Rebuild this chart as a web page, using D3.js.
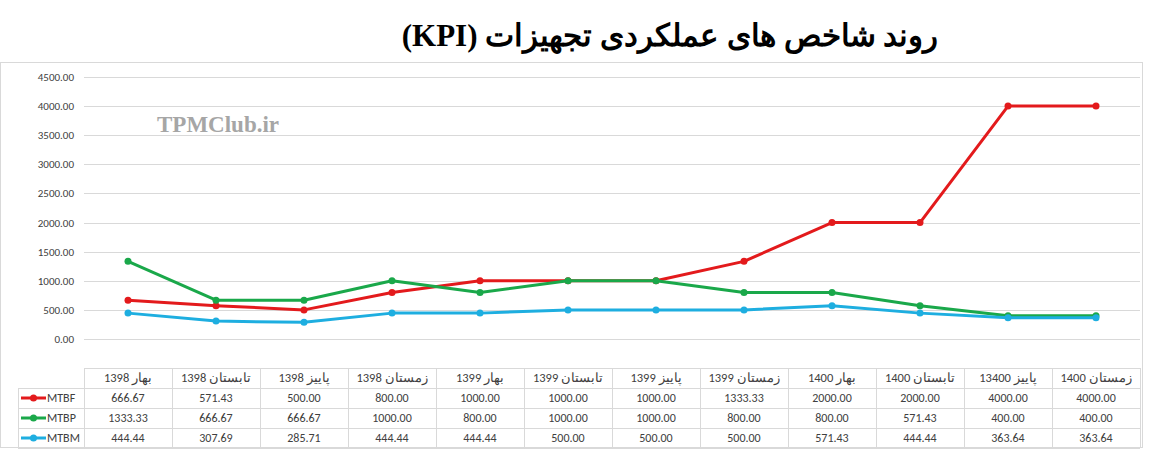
<!DOCTYPE html>
<html><head><meta charset="utf-8">
<script src="https://cdn.jsdelivr.net/npm/d3@7"></script>
<style>body{margin:0;background:#fff}</style>
</head><body>
<script>
var categories = ["1398 بهار","1398 تابستان","1398 پاییز","1398 زمستان","1399 بهار","1399 تابستان","1399 پاییز","1399 زمستان","1400 بهار","1400 تابستان","13400 پاییز","1400 زمستان"];
var mtbf = [666.67,571.43,500.00,800.00,1000.00,1000.00,1000.00,1333.33,2000.00,2000.00,4000.00,4000.00];
var mtbp = [1333.33,666.67,666.67,1000.00,800.00,1000.00,1000.00,800.00,800.00,571.43,400.00,400.00];
var mtbm = [444.44,307.69,285.71,444.44,444.44,500.00,500.00,500.00,571.43,444.44,363.64,363.64];
var yTicks = [0,500,1000,1500,2000,2500,3000,3500,4000,4500];
var series = [
  {name:"MTBF", values:mtbf, color:"#e31a1c"},
  {name:"MTBP", values:mtbp, color:"#1aa84a"},
  {name:"MTBM", values:mtbm, color:"#1eaee0"}
];

// layout
var W = 1152, H = 462;
var plotLeft = 84, plotRight = 1140, plotTop = 77, plotBottom = 339;
var svg = d3.select("body").append("svg").attr("width", W).attr("height", H)
  .style("font-family", "Calibri, 'Liberation Sans', Arial, sans-serif");

svg.append("rect").attr("x",0.5).attr("y",62.5).attr("width",1142).attr("height",385)
  .attr("fill","none").attr("stroke","#d9d9d9");

var x = d3.scaleBand().domain(categories).range([plotLeft, plotRight]);
var y = d3.scaleLinear().domain([0, 4500]).range([plotBottom, plotTop]);

// gridlines
svg.append("g").selectAll("line").data(yTicks).enter().append("line")
  .attr("x1", plotLeft).attr("x2", plotRight)
  .attr("y1", function(d){ return Math.round(y(d)) + 0.5; })
  .attr("y2", function(d){ return Math.round(y(d)) + 0.5; })
  .attr("stroke", "#d9d9d9");

// y axis labels
svg.append("g").selectAll("text").data(yTicks).enter().append("text")
  .attr("x", 74).attr("y", function(d){ return y(d) + 4; })
  .attr("text-anchor", "end").attr("font-size", 11).attr("fill", "#404040")
  .text(function(d){ return d.toFixed(2); });

// watermark
svg.append("text").attr("x", 157).attr("y", 132)
  .attr("font-family", "'Liberation Serif', serif").attr("font-weight", "bold")
  .attr("font-size", 23).attr("fill", "#a6a6a6").text("TPMClub.ir");

// title
svg.append("text").attr("x", 670).attr("y", 46).attr("text-anchor", "middle")
  .attr("font-family", "'Liberation Serif', 'DejaVu Serif', serif").attr("font-weight", "bold")
  .attr("font-size", 31).attr("fill", "#000")
  .attr("direction", "rtl").text("روند شاخص های عملکردی تجهیزات (KPI)");

// lines
var cx = function(d, i){ return x(categories[i]) + x.bandwidth() / 2; };
var line = d3.line().x(cx).y(function(d){ return y(d); });
series.forEach(function(s){
  svg.append("path").datum(s.values).attr("d", line)
    .attr("fill", "none").attr("stroke", s.color).attr("stroke-width", 3).attr("stroke-linejoin","round");
  svg.append("g").selectAll("circle").data(s.values).enter().append("circle")
    .attr("cx", cx).attr("cy", function(d){ return y(d); }).attr("r", 3.5).attr("fill", s.color);
});

// data table
var rowTop = 368, rowH = 20, legLeft = 18;
var tbl = svg.append("g").attr("stroke", "#d9d9d9").attr("fill", "none");
[rowTop, rowTop + rowH, rowTop + 2*rowH, rowTop + 3*rowH, rowTop + 4*rowH].forEach(function(yy, i){
  tbl.append("line").attr("x1", i === 0 ? plotLeft : legLeft).attr("x2", plotRight)
    .attr("y1", yy + 0.5).attr("y2", yy + 0.5);
});
tbl.append("line").attr("x1", legLeft + 0.5).attr("x2", legLeft + 0.5)
  .attr("y1", rowTop + rowH).attr("y2", rowTop + 4*rowH);
categories.forEach(function(c){
  tbl.append("line").attr("x1", Math.round(x(c)) + 0.5).attr("x2", Math.round(x(c)) + 0.5)
    .attr("y1", rowTop).attr("y2", rowTop + 4*rowH);
});
tbl.append("line").attr("x1", plotRight + 0.5).attr("x2", plotRight + 0.5)
  .attr("y1", rowTop).attr("y2", rowTop + 4*rowH);

svg.append("g").selectAll("text").data(categories).enter().append("text")
  .attr("x", function(d){ return x(d) + x.bandwidth()/2; }).attr("y", rowTop + 14)
  .attr("text-anchor", "middle").attr("font-size", 12.5).attr("fill", "#404040")
  .text(function(d){ return d; });

series.forEach(function(s, r){
  var yy = rowTop + rowH*(r+1);
  svg.append("line").attr("x1", 21).attr("x2", 46).attr("y1", yy + 10).attr("y2", yy + 10)
    .attr("stroke", s.color).attr("stroke-width", 3);
  svg.append("circle").attr("cx", 33.5).attr("cy", yy + 10).attr("r", 3.5).attr("fill", s.color);
  svg.append("text").attr("x", 47).attr("y", yy + 14).attr("font-size", 12).attr("fill", "#404040").text(s.name);
  svg.append("g").selectAll("text").data(s.values).enter().append("text")
    .attr("x", function(d, i){ return cx(d, i); }).attr("y", yy + 14)
    .attr("text-anchor", "middle").attr("font-size", 12).attr("fill", "#404040")
    .text(function(d){ return d.toFixed(2); });
});
</script>
</body></html>
